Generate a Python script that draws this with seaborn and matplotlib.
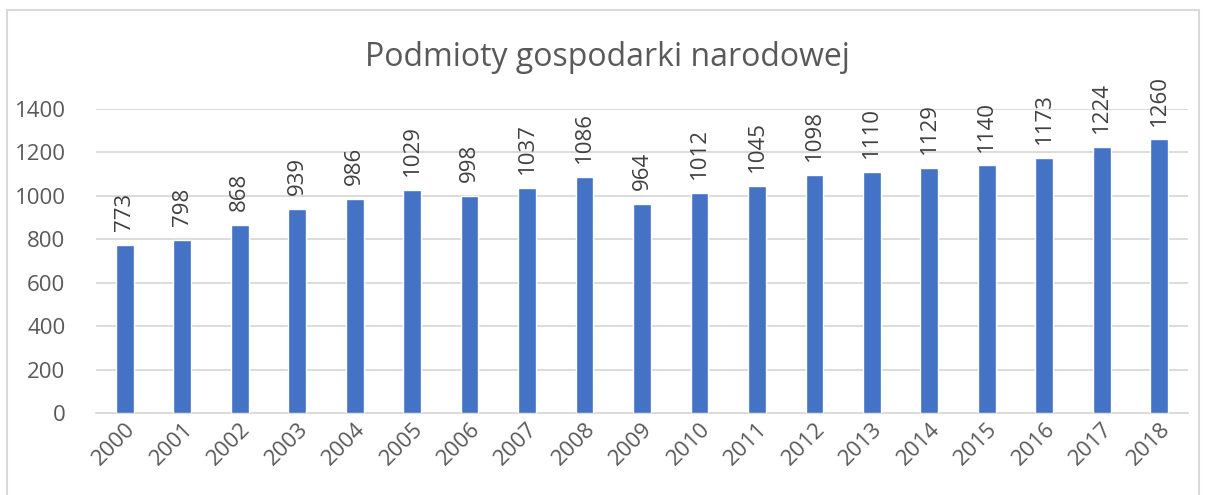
import matplotlib
matplotlib.use("Agg")
import matplotlib.pyplot as plt
import seaborn as sns
import pandas as pd
from matplotlib.patches import Rectangle

years = [str(y) for y in range(2000, 2019)]
values = [773, 798, 868, 939, 986, 1029, 998, 1037, 1086, 964,
          1012, 1045, 1098, 1110, 1129, 1140, 1173, 1224, 1260]
yticks = [0, 200, 400, 600, 800, 1000, 1200, 1400]
title = "Podmioty gospodarki narodowej"

BAR = "#4472C4"
TEXT = "#595959"
GRID = "#D9D9D9"

sns.set_theme(style="white")
plt.rcParams["font.family"] = ["Open Sans", "DejaVu Sans"]

df = pd.DataFrame({"rok": years, "liczba": values})

fig = plt.figure(figsize=(12.06, 4.95), dpi=100)
ax = fig.add_axes([96 / 1206, 1 - 413 / 495, (1188 - 96) / 1206, (413 - 109) / 495])

sns.barplot(data=df, x="rok", y="liczba", color=BAR, width=0.31, ax=ax,
            saturation=1, zorder=3)

ax.set_ylim(0, 1400)
ax.set_xlim(-0.5, len(years) - 0.5)
ax.set_yticks(yticks)
ax.set_yticklabels([str(t) for t in yticks])
ax.yaxis.grid(True, color=GRID, linewidth=1.3, zorder=0)
ax.set_axisbelow(True)
ax.set_xlabel("")
ax.set_ylabel("")
for s in ["top", "right", "left"]:
    ax.spines[s].set_visible(False)
ax.spines["bottom"].set_color(GRID)
ax.spines["bottom"].set_linewidth(1.3)
ax.tick_params(axis="y", length=0, labelsize=16, labelcolor=TEXT, pad=22)
ax.tick_params(axis="x", length=0, labelsize=16, labelcolor=TEXT, pad=4)
plt.setp(ax.get_xticklabels(), rotation=45, ha="right", rotation_mode="anchor")

# value labels, rotated like in the Excel original
for i, v in enumerate(values):
    ax.annotate(str(v), (i, v), xytext=(0, 10), textcoords="offset points",
                rotation=90, ha="center", va="bottom", fontsize=16,
                color="#404040", clip_on=False)

fig.text(607 / 1206, 1 - 58 / 495, title, ha="center", va="center",
         fontsize=23, color=TEXT)

fig.patches.append(Rectangle((7 / 1206, -0.05), (1199 - 7) / 1206, 1 - 10 / 495 + 0.05,
                             transform=fig.transFigure, fill=False,
                             edgecolor=GRID, linewidth=1.5))

fig.savefig("out.png", dpi=100, facecolor="white")
